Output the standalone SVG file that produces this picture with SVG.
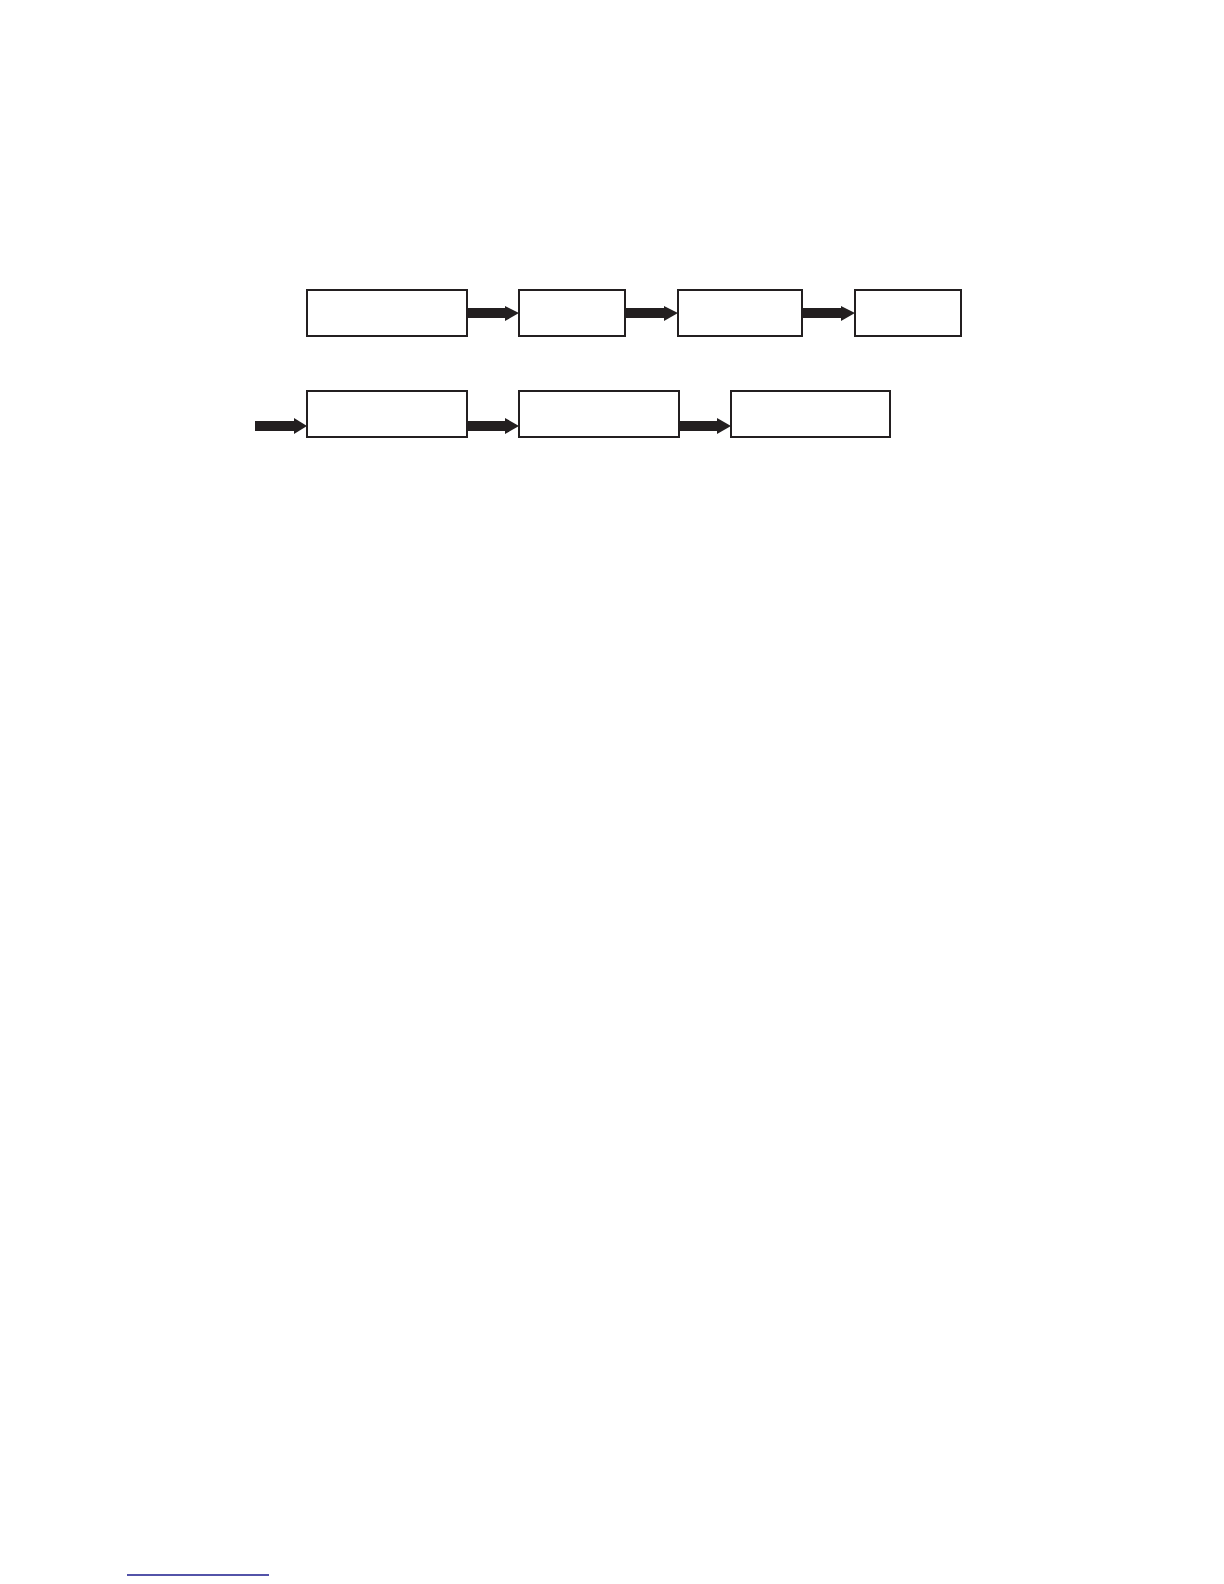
<svg xmlns="http://www.w3.org/2000/svg" width="1224" height="1584" viewBox="0 0 1224 1584">
<style>
.box{fill:#fff;stroke:#231f20;stroke-width:2}
.arr{fill:#231f20}
</style>
<rect width="1224" height="1584" fill="#fff"/>
<g id="n1"><rect class="box" x="307" y="290" width="160" height="46"/></g>
<g id="n2"><rect class="box" x="519" y="290" width="106" height="46"/></g>
<g id="n3"><rect class="box" x="678" y="290" width="124" height="46"/></g>
<g id="n4"><rect class="box" x="855" y="290" width="106" height="46"/></g>
<g id="n5"><rect class="box" x="307" y="391" width="160" height="46"/></g>
<g id="n6"><rect class="box" x="519" y="391" width="160" height="46"/></g>
<g id="n7"><rect class="box" x="731" y="391" width="159" height="46"/></g>
<g id="connectors">
<polygon class="arr" points="468,308 505,308 505,306 519,313 505,321 505,318 468,318"/>
<polygon class="arr" points="626,308 664,308 664,306 678,313 664,321 664,318 626,318"/>
<polygon class="arr" points="803,308 841,308 841,306 855,313 841,321 841,318 803,318"/>
<polygon class="arr" points="255,421 294,421 294,418 307,426 294,434 294,431 255,431"/>
<polygon class="arr" points="468,421 505,421 505,418 519,426 505,434 505,431 468,431"/>
<polygon class="arr" points="680,421 717,421 717,418 731,426 717,434 717,431 680,431"/>
</g>
<line x1="127" y1="1575" x2="269" y2="1575" stroke="#1a1a8c" stroke-width="1.3"/>
</svg>
